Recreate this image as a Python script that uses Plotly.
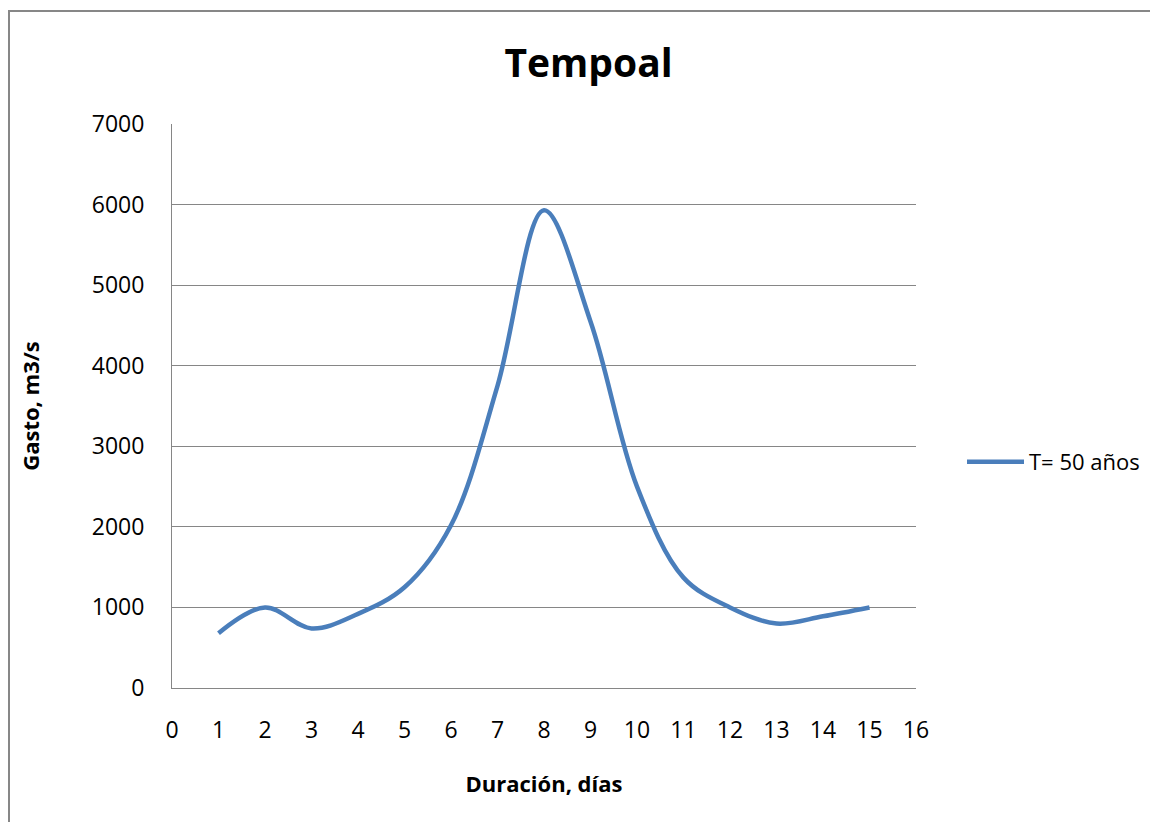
import plotly.graph_objects as go

dias = [1, 2, 3, 4, 5, 6, 7, 8, 9, 10, 11, 12, 13, 14, 15]
gasto = [680, 1000, 740, 920, 1250, 2020, 3750, 5930, 4550, 2500, 1370, 1000, 800, 890, 1000]
serie = "T= 50 años"
titulo = "Tempoal"
x_titulo = "Duración, días"
y_titulo = "Gasto, m3/s"
x_ticks = list(range(0, 17))
y_ticks = list(range(0, 7001, 1000))

# page has an 8px body margin; figure is placed at (8, 8)
OFF = 8
W, H = 1158 - OFF, 822 - OFF
L, R, T, B = 172 - OFF, 242, 124 - OFF, 134
pw, ph = W - L - R, H - T - B

def px_x(p):  # page pixel -> paper x
    return (p - OFF - L) / pw

def px_y(p):  # page pixel -> paper y
    return (H - B - (p - OFF)) / ph

FONT = "Open Sans"
GRID = "#868686"

fig = go.Figure()
fig.add_trace(go.Scatter(
    x=dias, y=gasto, mode="lines", name=serie,
    line=dict(color="#4A7EBB", width=4.5, shape="spline", smoothing=1.0),
))

fig.update_layout(
    width=W, height=H,
    margin=dict(l=L, r=R, t=T, b=B),
    paper_bgcolor="white", plot_bgcolor="white",
    font=dict(family=FONT, color="black"),
    title=dict(text="<b>" + titulo + "</b>", x=(588.5 - OFF) / W, xanchor="center",
               y=1 - (63 - OFF) / H, yanchor="middle", font=dict(size=39, family=FONT)),
    xaxis=dict(range=[0, 16], tickvals=x_ticks, ticktext=[str(v) for v in x_ticks],
               showgrid=False, zeroline=False, showline=True, linecolor=GRID, linewidth=1,
               ticks="", ticklabelstandoff=21, tickfont=dict(size=23, family=FONT),
               title=dict(text="<b>" + x_titulo + "</b>", font=dict(size=22, family=FONT), standoff=33)),
    yaxis=dict(range=[0, 7000], tickvals=y_ticks, ticktext=[str(v) for v in y_ticks],
               showgrid=True, gridcolor=GRID, gridwidth=1, zeroline=False,
               showline=True, linecolor=GRID, linewidth=1,
               ticks="", ticklabelstandoff=22, tickfont=dict(size=23, family=FONT),
               title=dict(text="<b>" + y_titulo + "</b>", font=dict(size=22, family=FONT), standoff=46)),
    showlegend=True,
    legend=dict(x=px_x(962), y=px_y(462), xanchor="left", yanchor="middle",
                font=dict(size=22, family=FONT), itemwidth=57, bgcolor="rgba(0,0,0,0)"),
)

fig.add_shape(type="rect", xref="paper", yref="paper",
              x0=px_x(9), x1=px_x(1175), y0=px_y(840), y1=px_y(11),
              line=dict(color="#878787", width=2), fillcolor="rgba(0,0,0,0)", layer="below")

fig.write_html("out.html")
